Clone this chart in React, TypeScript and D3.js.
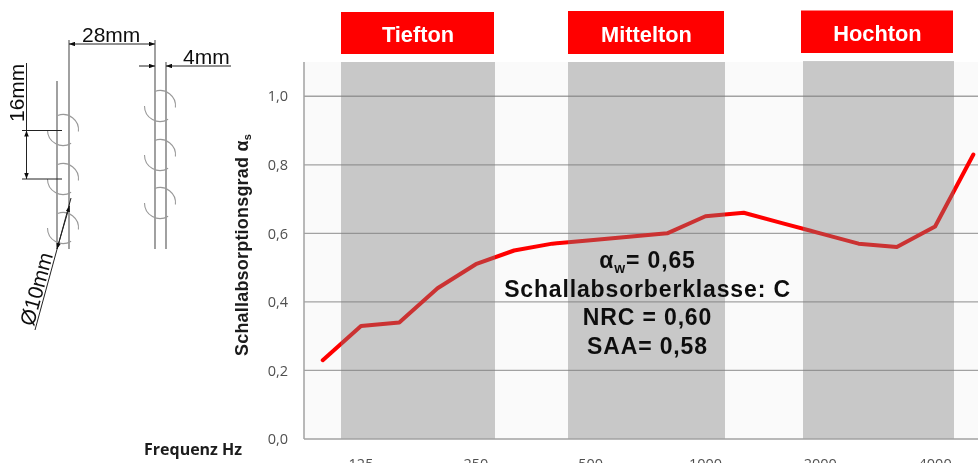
import { useEffect, useRef } from 'react'
import * as d3 from 'd3'

const frequencies = ['100', '125', '160', '200', '250', '315', '400', '500', '630', '800', '1000', '1250', '1600', '2000', '2500', '3150', '4000', '5000']
const absorption = [0.23, 0.33, 0.34, 0.44, 0.51, 0.55, 0.57, 0.58, 0.59, 0.6, 0.65, 0.66, 0.63, 0.6, 0.57, 0.56, 0.62, 0.83]
const freqTicks = ['125', '250', '500', '1000', '2000', '4000']
const yTicks = [0, 0.2, 0.4, 0.6, 0.8, 1.0]
const rangeNames = ['Tiefton', 'Mittelton', 'Hochton']
const ratingLabels = ['= 0,65', 'Schallabsorberklasse: C', 'NRC = 0,60', 'SAA= 0,58']

const SANS = '"Liberation Sans", Arial, sans-serif'
const CALIBRI = '"Open Sans", "Noto Sans", sans-serif'

export default function App() {
  const svgRef = useRef<SVGSVGElement>(null)

  useEffect(() => {
    if (!svgRef.current) return
    const svg = d3.select(svgRef.current)
    svg.selectAll('*').remove()

    const defs = svg.append('defs')
    defs
      .append('filter')
      .attr('id', 'soft')
      .attr('filterUnits', 'userSpaceOnUse')
      .attr('x', 0)
      .attr('y', 0)
      .attr('width', 978)
      .attr('height', 463)
      .append('feGaussianBlur')
      .attr('stdDeviation', 0.45)
    defs
      .append('marker')
      .attr('id', 'tip')
      .attr('viewBox', '0 0 8 6')
      .attr('refX', 8)
      .attr('refY', 3)
      .attr('markerWidth', 6)
      .attr('markerHeight', 4.5)
      .attr('markerUnits', 'userSpaceOnUse')
      .attr('orient', 'auto-start-reverse')
      .append('path')
      .attr('d', 'M0,0L8,3L0,6Z')
      .attr('fill', '#111')

    const root = svg.append('g').attr('filter', 'url(#soft)')

    // Scales
    const x = d3.scaleBand<string>().domain(frequencies).range([303.6, 992.5])
    const y = d3.scaleLinear().domain([0, 1.1]).range([439, 62])
    const mid = (f: string) => (x(f) as number) + x.bandwidth() / 2

    // Plot background
    root
      .append('rect')
      .attr('x', 304)
      .attr('y', 62)
      .attr('width', 690)
      .attr('height', 377)
      .attr('fill', '#fafafa')

    // Grid
    root
      .append('g')
      .selectAll('line')
      .data(yTicks.slice(1))
      .join('line')
      .attr('x1', 304)
      .attr('x2', 992)
      .attr('y1', (d) => y(d))
      .attr('y2', (d) => y(d))
      .attr('stroke', '#a2a2a2')
      .attr('stroke-width', 1.3)

    // Curve
    const line = d3
      .line<number>()
      .x((_, i) => mid(frequencies[i]))
      .y((d) => y(d))
    root
      .append('path')
      .datum(absorption)
      .attr('fill', 'none')
      .attr('stroke', '#ff0000')
      .attr('stroke-width', 4)
      .attr('stroke-linejoin', 'round')
      .attr('stroke-linecap', 'round')
      .attr('d', line)

    // Grey bands sit over the curve and the grid
    const bandLeft = [341, 568, 803]
    const bandRight = [495, 725, 954]
    root
      .append('g')
      .selectAll('rect')
      .data(rangeNames)
      .join('rect')
      .attr('x', (_, i) => bandLeft[i])
      .attr('y', (_, i) => (i === 2 ? 61 : 62))
      .attr('width', (_, i) => bandRight[i] - bandLeft[i])
      .attr('height', (_, i) => (i === 2 ? 378 : 377))
      .attr('fill', '#7d7d7d')
      .attr('opacity', 0.4)

    // Axis lines
    root
      .append('line')
      .attr('x1', 304)
      .attr('x2', 304)
      .attr('y1', 62)
      .attr('y2', 439)
      .attr('stroke', '#a2a2a2')
      .attr('stroke-width', 1.5)
    root
      .append('line')
      .attr('x1', 304)
      .attr('x2', 992)
      .attr('y1', 439)
      .attr('y2', 439)
      .attr('stroke', '#a2a2a2')
      .attr('stroke-width', 1.5)

    // Tick labels
    const yAxis = d3
      .axisLeft(y)
      .tickValues(yTicks)
      .tickSize(0)
      .tickPadding(16)
      .tickFormat((d) => d3.format('.1f')(d as number).replace('.', ','))
    const yG = root.append('g').attr('transform', 'translate(304,0)').call(yAxis)
    yG.select('.domain').remove()
    yG.selectAll('text').attr('font-family', CALIBRI).attr('font-size', 14.5).attr('fill', '#505050')

    // The picture is cut at the bottom, through the frequency labels
    const xAxis = d3.axisBottom(x).tickValues(freqTicks).tickSize(0).tickPadding(19.5)
    const xG = root.append('g').attr('transform', 'translate(0,439)').call(xAxis)
    xG.select('.domain').remove()
    xG.selectAll('text').attr('font-family', CALIBRI).attr('font-size', 14.5).attr('fill', '#505050')

    // Axis titles
    const yTitle = root
      .append('text')
      .attr('transform', 'translate(248,245) rotate(-90)')
      .attr('text-anchor', 'middle')
      .attr('font-family', SANS)
      .attr('font-size', 18)
      .attr('font-weight', 700)
      .attr('letter-spacing', 0.2)
      .attr('fill', '#1a1a1a')
    yTitle.append('tspan').text('Schallabsorptionsgrad α')
    yTitle.append('tspan').attr('font-size', 11).attr('dy', 3).text('s')

    root
      .append('text')
      .attr('x', 144)
      .attr('y', 455)
      .attr('font-family', CALIBRI)
      .attr('font-size', 16)
      .attr('font-weight', 700)
      .attr('fill', '#1a1a1a')
      .text('Frequenz Hz')

    // Red range headers
    const boxLeft = [341, 568, 801]
    const boxRight = [494, 724, 953]
    const boxTop = [12, 11, 10.5]
    const boxBottom = [54, 54, 53]
    const headers = root.append('g').selectAll('g').data(rangeNames).join('g')
    headers
      .append('rect')
      .attr('x', (_, i) => boxLeft[i])
      .attr('y', (_, i) => boxTop[i])
      .attr('width', (_, i) => boxRight[i] - boxLeft[i])
      .attr('height', (_, i) => boxBottom[i] - boxTop[i])
      .attr('fill', '#ff0000')
    headers
      .append('text')
      .attr('x', (_, i) => (boxLeft[i] + boxRight[i]) / 2 + 0.5)
      .attr('y', (_, i) => boxBottom[i] - 12.5)
      .attr('text-anchor', 'middle')
      .attr('font-family', SANS)
      .attr('font-size', 21.8)
      .attr('font-weight', 700)
      .attr('fill', '#ffffff')
      .text((d) => d)

    // Ratings block
    const ratingY = d3.scalePoint<string>().domain(ratingLabels).range([268, 354])
    const ratings = root
      .append('g')
      .selectAll('text')
      .data(ratingLabels)
      .join('text')
      .attr('x', 647.5)
      .attr('y', (d) => ratingY(d) as number)
      .attr('text-anchor', 'middle')
      .attr('font-family', SANS)
      .attr('font-size', 23)
      .attr('font-weight', 700)
      .attr('letter-spacing', 0.85)
      .attr('fill', '#111111')
      .text((d, i) => (i === 0 ? '' : d))
    const first = ratings.filter((_, i) => i === 0)
    first.append('tspan').text('α')
    first.append('tspan').attr('font-size', 14).attr('dy', 5).text('w')
    first.append('tspan').attr('dy', -5).text(ratingLabels[0])

    // Mounting sketch on the left
    const sketch = root.append('g').attr('fill', 'none').attr('stroke', '#555').attr('stroke-width', 1.1)
    const rails = [
      [57, 81, 57, 249],
      [69, 40, 69, 249],
      [155, 40, 155, 249],
      [166, 62, 166, 249],
    ]
    sketch
      .selectAll('line')
      .data(rails)
      .join('line')
      .attr('x1', (d) => d[0])
      .attr('y1', (d) => d[1])
      .attr('x2', (d) => d[2])
      .attr('y2', (d) => d[3])

    const hooks = [
      [63, 130],
      [63, 179],
      [63, 228],
      [160, 106],
      [160, 155],
      [160, 203],
    ]
    const upperArc = d3.arc()({ innerRadius: 15.5, outerRadius: 15.5, startAngle: -0.35, endAngle: Math.PI / 2 + 0.1 })
    const lowerArc = d3.arc()({ innerRadius: 15.5, outerRadius: 15.5, startAngle: -Math.PI / 2, endAngle: -Math.PI + -0.55 })
    const hookG = sketch
      .append('g')
      .attr('stroke', '#999')
      .selectAll('g')
      .data(hooks)
      .join('g')
      .attr('transform', (d) => `translate(${d[0]},${d[1]})`)
    hookG.append('path').attr('d', upperArc as string)
    hookG.append('path').attr('d', lowerArc as string)

    // Dimension lines
    const dims = root.append('g').attr('stroke', '#222').attr('stroke-width', 1).attr('fill', 'none')
    const dimLine = (x1: number, y1: number, x2: number, y2: number, start: boolean, end: boolean) =>
      dims
        .append('line')
        .attr('x1', x1)
        .attr('y1', y1)
        .attr('x2', x2)
        .attr('y2', y2)
        .attr('marker-start', start ? 'url(#tip)' : null)
        .attr('marker-end', end ? 'url(#tip)' : null)
    dimLine(69, 44, 155, 44, true, true)
    dimLine(139, 66, 155, 66, false, true)
    dimLine(166, 66, 231, 66, true, false)
    dimLine(26.5, 63, 26.5, 130.5, false, false)
    dimLine(26.5, 130.5, 26.5, 179, true, true)
    dimLine(22, 130.5, 62, 130.5, false, false)
    dimLine(22, 179, 62, 179, false, false)
    dimLine(35, 330, 71, 198, false, false)
    dimLine(57, 249, 69.5, 206, true, true)

    const dimText = (label: string, tx: number, ty: number, rot: number) =>
      root
        .append('text')
        .attr('transform', `translate(${tx},${ty}) rotate(${rot})`)
        .attr('font-family', SANS)
        .attr('font-size', 21)
        .attr('fill', '#111')
        .text(label)
    dimText('28mm', 82, 42, 0)
    dimText('4mm', 183, 64, 0)
    dimText('16mm', 24, 122, -90)
    dimText('Ø10mm', 33.5, 327, -74.7)
  }, [])

  return (
    <svg
      ref={svgRef}
      width={978}
      height={463}
      style={{ position: 'absolute', left: 0, top: 0, background: '#fff' }}
    />
  )
}
